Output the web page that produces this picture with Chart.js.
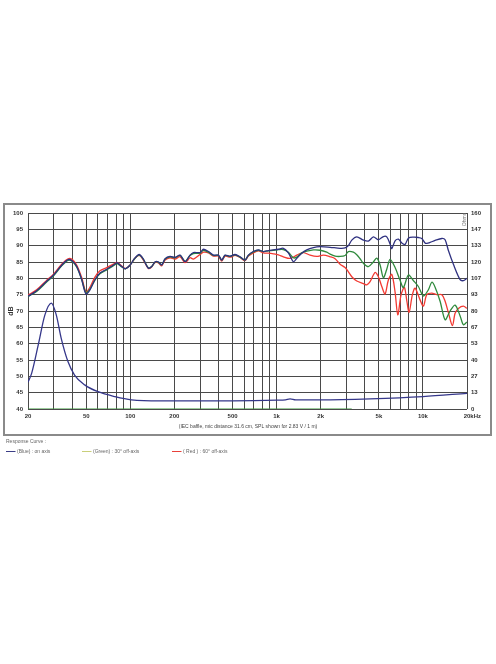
<!DOCTYPE html>
<html><head><meta charset="utf-8">
<script src="https://cdn.jsdelivr.net/npm/chart.js@4/dist/chart.umd.min.js"></script>
<style>html,body{margin:0;padding:0;background:#fff;}canvas{display:block;}</style>
</head><body>
<canvas id="c" width="496" height="664"></canvas>
<script>
// ---- data ----
const xGridTicks = [20,30,40,50,60,70,80,90,100,200,300,400,500,600,700,800,900,1000,2000,3000,4000,5000,6000,7000,8000,9000,10000,20000];
const xTickLabels = {20:'20',50:'50',100:'100',200:'200',500:'500',1000:'1k',2000:'2k',5000:'5k',10000:'10k',20000:'20'};
const ohmTickLabels = ['0','13','27','40','53','67','80','93','107','120','133','147','160'];

const blueF = [20,22.9,26.7,29.9,34.1,37.6,40,43.1,46.6,49.8,52.9,57.2,62,69,78.6,81,87.5,92.4,99.5,107,115,122,133,140,148,156,164,173,187,202,219,237,256,270,300,316,342,370,400,422,444,481,520,562,608,641,693,750,812,878,950,1028,1112,1203,1301,1373,1485,1607,1783,1981,2320,2715,2937,3093,3264,3530,3916,4237,4584,4960,5366,5660,5962,6124,6450,6794,7168,7550,7952,8602,9306,9818,10342,10622,11190,12106,13452,14172,14926,16148,17946,18904,19936];
const blueDb = [74.5,76.2,79.0,81.0,84.1,85.7,85.4,83.6,79.5,75.2,76.4,79.5,81.6,82.8,84.4,84.8,83.6,82.9,84.0,86.1,87.3,86.1,83.1,83.6,85.1,85.0,84.1,86.0,86.7,86.4,87.1,85.1,87.1,87.9,87.9,88.9,88.2,87.1,87.1,85.6,87.1,86.8,87.3,86.6,85.6,87.1,88.2,88.7,88.2,88.5,88.7,88.9,89.2,87.8,85.1,86.1,87.7,88.7,89.4,89.7,89.5,89.2,89.3,90.0,91.7,92.7,91.7,91.4,92.7,91.8,92.8,92.7,90.5,89.1,91.5,92.0,90.8,90.4,92.3,92.6,92.5,92.2,90.8,90.7,91.0,91.6,92.2,91.8,88.5,84.3,79.6,79.3,80.0];

const greenF = [20,22.9,26.7,29.9,34.1,37.6,40,43.1,46.6,49.8,52.9,57.2,62,69,78.6,81,87.5,92.4,99.5,107,115,122,133,140,148,156,164,173,187,202,219,237,256,270,300,316,342,370,400,422,444,481,520,562,608,641,693,750,812,878,950,1028,1112,1203,1301,1373,1485,1607,1783,1981,2202,2320,2510,2715,2937,3093,3347,3530,3718,3916,4237,4584,4836,5094,5366,5660,5962,6450,6978,7352,7952,8602,9306,10070,10892,11494,12106,13098,14172,15332,16586,17946,18904,19936];
const greenDb = [74.4,76.0,78.8,80.8,83.9,85.5,85.2,83.4,79.6,75.6,76.6,79.4,81.4,82.6,84.2,84.6,83.5,82.9,84.0,86.0,87.1,86.0,83.2,83.6,85.0,84.9,84.1,85.9,86.6,86.3,87.0,85.2,87.0,87.6,87.7,88.6,88.0,87.0,87.0,85.6,87.0,86.7,87.2,86.5,85.6,87.0,88.1,88.6,88.2,88.4,88.6,88.8,88.8,88.0,86.3,86.5,87.8,88.3,88.7,88.6,88.0,87.4,86.8,86.7,87.0,88.2,88.0,87.2,86.0,84.6,83.6,85.0,86.2,84.1,80.2,82.8,85.8,83.3,79.4,77.2,81.0,79.3,77.5,74.6,76.5,78.8,77.3,73.0,67.3,70.0,71.8,68.5,65.8,66.6];

const redF = [20,22.9,26.7,29.9,34.1,37.6,40,43.1,46.6,49.8,52.9,57.2,62,69,78.6,81,87.5,92.4,99.5,107,115,122,133,140,148,156,164,173,187,202,219,237,256,270,300,316,342,370,400,422,444,481,520,562,608,641,693,750,812,878,950,1028,1112,1235,1373,1523,1693,1881,2087,2320,2510,2715,2937,3093,3264,3530,3916,4133,4352,4708,4960,5232,5511,5804,6124,6450,6730,7090,7468,7754,8040,8468,8836,9558,10070,10622,11494,12434,13452,14172,14926,15896,16586,17472,18904,19936];
const redDb = [74.8,76.5,79.3,81.3,84.4,86.0,85.8,84.0,80.2,75.8,77.2,80.3,82.3,83.3,84.6,84.9,83.8,83.0,84.0,86.0,87.0,85.8,83.0,83.5,84.9,84.7,83.8,85.6,86.3,85.9,86.6,84.8,86.3,85.9,87.3,88.0,87.8,86.8,86.8,85.3,86.8,86.5,87.0,86.4,85.4,86.8,87.8,88.4,87.8,87.7,87.5,87.2,86.6,86.1,87.1,87.9,87.1,86.7,87.1,86.6,86.0,84.3,83.3,82.0,80.5,79.2,78.4,78.0,79.0,81.8,80.5,77.5,75.2,79.5,81.2,75.8,68.8,75.0,77.2,73.2,69.6,75.0,77.0,73.4,71.5,75.0,75.5,75.0,75.0,73.0,69.5,65.5,69.3,70.8,71.5,70.8];

const impF = [20,21.2,23.5,26.1,28.9,31.2,33.7,37.5,41.6,48.8,60.2,78.6,102,160,500,1000,1150,1236,1350,2000,4350,10000,20000];
const impOhm = [21.9,29.3,52.3,76.8,86.4,76.8,57.9,38.7,27.7,19.7,14.1,10.1,7.5,6.7,6.7,7.2,7.5,8.3,7.5,7.5,8.3,10.1,12.8];

const greenBaseF = [20,3260];
const greenBaseDb = [40,40];

const pts = (f, v) => f.map((x, i) => ({x: x, y: v[i]}));

const FONT = '"Liberation Sans", Arial, sans-serif';
const tickFont = {family: FONT, size: 6, weight: 'bold'};

const decor = {
  id: 'decor',
  afterDraw(chart) {
    const c = chart.ctx, a = chart.chartArea;
    c.save();
    c.strokeStyle = '#8a8a8a'; c.lineWidth = 2;
    c.strokeRect(4, 204, 487, 231);
    // kHz after last x label
    c.fillStyle = '#333'; c.font = 'bold 6px ' + FONT;
    c.textAlign = 'left'; c.textBaseline = 'top';
    c.fillText('kHz', a.right + 3.3, a.bottom + 4);
    // dB title
    c.save();
    c.translate(11.5, (a.top + a.bottom) / 2); c.rotate(-Math.PI / 2);
    c.textAlign = 'center'; c.textBaseline = 'middle'; c.font = 'bold 7px ' + FONT;
    c.fillText('dB', 0, 0);
    c.restore();
    // Ohms title
    c.save();
    c.translate(464.5, 219.5); c.rotate(-Math.PI / 2);
    c.textAlign = 'center'; c.textBaseline = 'middle'; c.font = '5px ' + FONT; c.fillStyle = '#777';
    c.fillText('Ohms', 0, 0);
    c.restore();
    // caption
    c.font = '5px ' + FONT; c.fillStyle = '#444'; c.textAlign = 'center'; c.textBaseline = 'middle';
    c.fillText('(IEC baffle, mic distance 31.6 cm, SPL shown for 2.83 V / 1 m)', 248, 426.5);
    // legend
    c.textAlign = 'left'; c.fillStyle = '#666';
    c.fillText('Response Curve :', 6, 441.5);
    const items = [
      {x: 6, col: '#3b3d86', t: '(Blue) : on axis'},
      {x: 82, col: '#c9cf7a', t: '(Green) : 30\u00b0 off-axis'},
      {x: 172, col: '#e8403a', t: '( Red ) : 60\u00b0 off-axis'}
    ];
    items.forEach(it => {
      c.strokeStyle = it.col; c.lineWidth = 1;
      c.beginPath(); c.moveTo(it.x, 451.5); c.lineTo(it.x + 9.5, 451.5); c.stroke();
      c.fillStyle = '#666'; c.fillText(it.t, it.x + 11, 451.5);
    });
    c.restore();
  }
};

new Chart(document.getElementById('c'), {
  type: 'line',
  data: {
    datasets: [
      {label: 'Blue', data: pts(blueF, blueDb), borderColor: '#2f3180', borderWidth: 1.3, pointRadius: 0, tension: 0.3, yAxisID: 'y'},
      {label: 'Green', data: pts(greenF, greenDb), borderColor: '#2f8a3c', borderWidth: 1.3, pointRadius: 0, tension: 0.3, yAxisID: 'y'},
      {label: 'Red', data: pts(redF, redDb), borderColor: '#f23a32', borderWidth: 1.3, pointRadius: 0, tension: 0.3, yAxisID: 'y'},
      {label: 'Impedance', data: pts(impF, impOhm), borderColor: '#35378a', borderWidth: 1.3, pointRadius: 0, cubicInterpolationMode: 'monotone', yAxisID: 'y1'},
      {label: 'base', data: pts(greenBaseF, greenBaseDb), borderColor: '#3a9a3a', borderWidth: 1.2, pointRadius: 0, yAxisID: 'y'}
    ]
  },
  options: {
    responsive: false, animation: false, devicePixelRatio: 1,
    layout: {padding: {top: 213, left: 0, right: 0, bottom: 0}},
    plugins: {legend: {display: false}, tooltip: {enabled: false}},
    scales: {
      x: {
        type: 'logarithmic', min: 20, max: 20000,
        afterBuildTicks: s => { s.ticks = xGridTicks.map(v => ({value: v})); },
        afterFit: s => { s.height = 255; },
        ticks: {autoSkip: false, maxRotation: 0, minRotation: 0, padding: 4, font: tickFont, color: '#333',
          callback: v => (xTickLabels[v] !== undefined ? xTickLabels[v] : '')},
        grid: {color: '#4a4a4a', lineWidth: 1, drawTicks: false},
        border: {display: false}
      },
      y: {
        position: 'left', min: 40, max: 100,
        afterFit: s => { s.width = 28; },
        ticks: {stepSize: 5, padding: 5, font: tickFont, color: '#333'},
        grid: {color: '#4a4a4a', lineWidth: 1, drawTicks: false},
        border: {display: false}
      },
      y1: {
        position: 'right', min: 0, max: 160,
        afterBuildTicks: s => { s.ticks = ohmTickLabels.map((l, i) => ({value: i * 160 / 12})); },
        afterFit: s => { s.width = 29; },
        ticks: {autoSkip: false, padding: 4, font: tickFont, color: '#333', callback: (v, i) => ohmTickLabels[i]},
        grid: {display: false, drawTicks: false},
        border: {display: false}
      }
    }
  },
  plugins: [decor]
});
</script>
</body></html>
